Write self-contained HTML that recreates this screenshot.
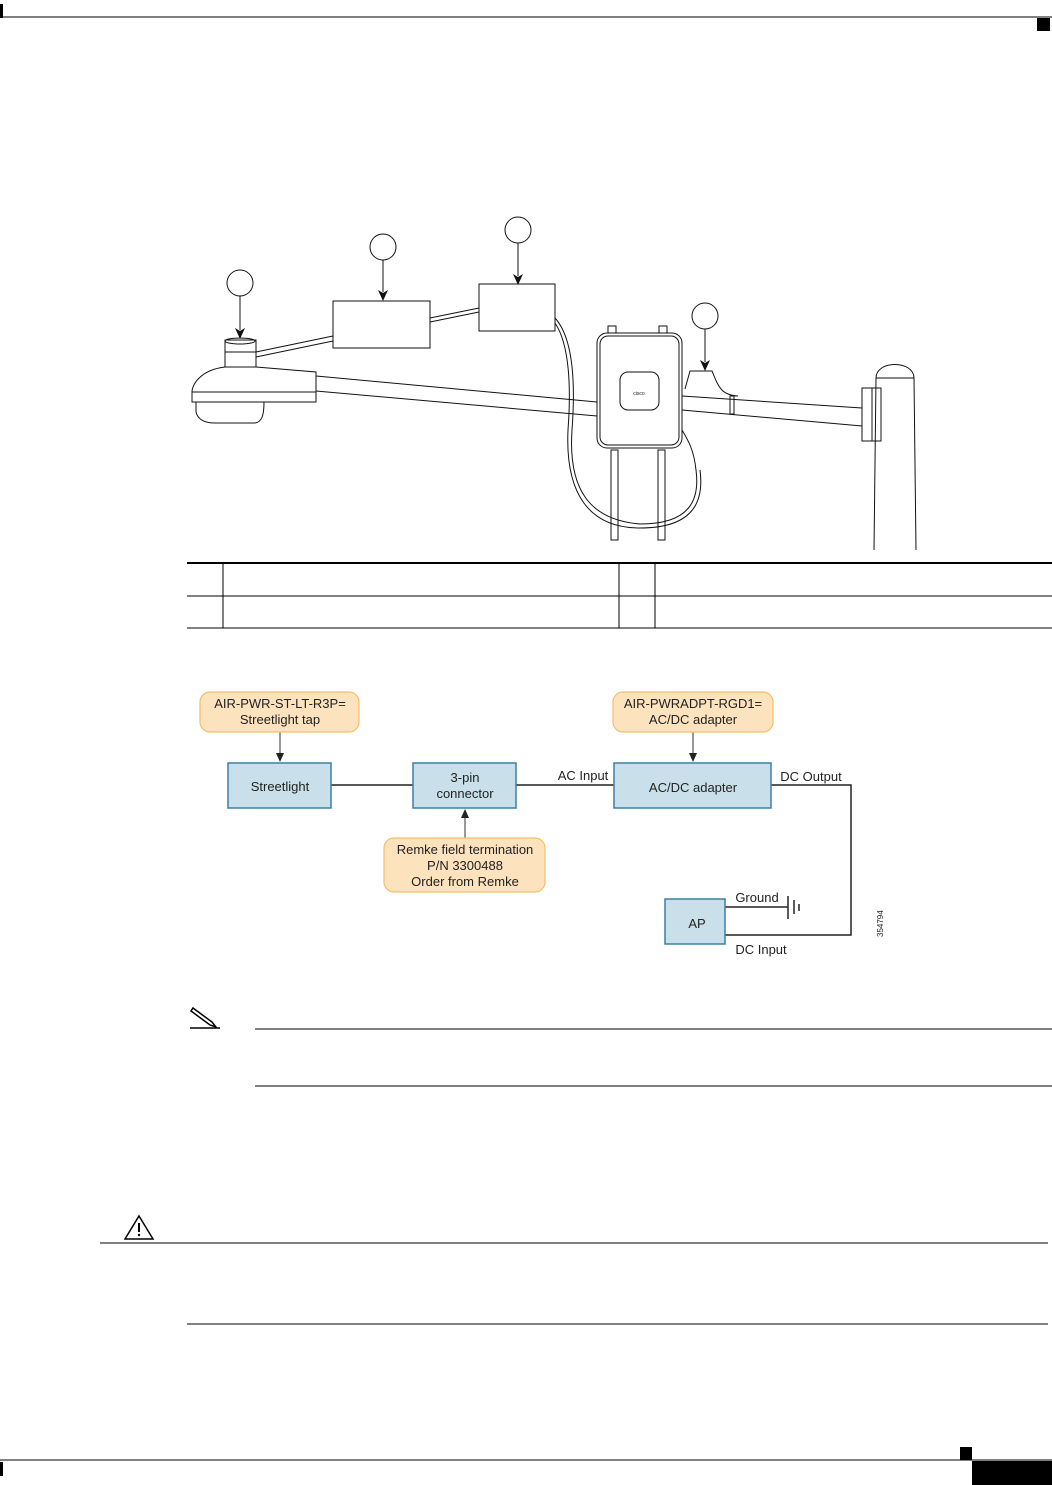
<!DOCTYPE html>
<html><head><meta charset="utf-8"><style>
html,body{margin:0;padding:0;background:#fff}
svg{display:block}
text{font-family:"Liberation Sans",Arial,sans-serif;fill:#222}
</style></head><body>
<svg width="1052" height="1485" viewBox="0 0 1052 1485" xmlns="http://www.w3.org/2000/svg">
<!-- header/footer -->
<line x1="0" y1="17" x2="1052" y2="17" stroke="#000" stroke-width="1"/>
<rect x="0" y="4" width="3" height="14" fill="#000"/>
<rect x="1037" y="18" width="13" height="13" fill="#000"/>
<line x1="0" y1="1460" x2="1052" y2="1460" stroke="#000" stroke-width="1"/>
<rect x="0" y="1462" width="3" height="14" fill="#000"/>
<rect x="960" y="1447" width="12" height="13" fill="#000"/>
<rect x="972" y="1461" width="80" height="24" fill="#000"/>

<!-- illustration -->
<g fill="none" stroke="#111" stroke-width="1">
<circle cx="240" cy="283" r="13"/><line x1="240" y1="296" x2="240" y2="330"/>
<circle cx="383" cy="247" r="13"/><line x1="383" y1="260" x2="383" y2="292"/>
<circle cx="518" cy="230" r="13"/><line x1="518" y1="243" x2="518" y2="276"/>
<circle cx="705" cy="316" r="13"/><line x1="705" y1="329" x2="705" y2="362"/>
<rect x="333" y="301" width="97" height="47"/>
<rect x="479" y="284" width="76" height="47"/>
<!-- cables -->
<path d="M256,352 L333,336 M256,357 L333,341"/>
<path d="M430,318 L479,308 M430,322 L479,312"/>
<path d="M555,318 C575,340 575,390 572,430 C568,490 590,520 640,524 C690,524 700,500 696,470 C694,450 688,440 682,430"/>
<path d="M555,323 C570,345 571,390 568,430 C565,495 590,528 640,528 C695,528 704,500 700,470"/>
<!-- lamp -->
<rect x="225" y="340" width="31" height="27"/>
<ellipse cx="240" cy="341" rx="15" ry="3"/>
<line x1="225" y1="352" x2="256" y2="352"/>
<path d="M225,367 C200,370 192,385 192,392 L192,402 L316,402 L316,372 L256,367"/>
<line x1="192" y1="392" x2="316" y2="392"/>
<path d="M196,402 L196,412 C198,420 205,423 215,423 L255,423 C262,422 264,415 264,402"/>
<!-- arm -->
<path d="M316,376 L597,402 M316,391 L597,416"/>
<path d="M682,396 L862,408 M682,410 L862,426"/>
<rect x="730" y="396" width="4" height="18"/>
<path d="M685,389 L690,371 L712,371 C718,385 720,395 738,396"/>
<!-- AP -->
<rect x="597" y="333" width="85" height="115" rx="10"/>
<rect x="600" y="336" width="79" height="109" rx="8"/>
<rect x="620" y="372" width="39" height="38" rx="8"/>
<rect x="608" y="326" width="8" height="7"/><rect x="659" y="326" width="8" height="7"/>
<rect x="611" y="450" width="7" height="90"/><rect x="658" y="450" width="7" height="90"/>
<!-- pole -->
<path d="M876,378 C876,360 914,360 914,378 Z"/>
<path d="M876,378 L874,550 M914,378 L916,550"/>
<rect x="862" y="388" width="19" height="53"/>
<line x1="872" y1="388" x2="872" y2="441"/>
</g>
<g fill="#111">
<path d="M235,328 L240,339 L245,328 L240,331 Z"/>
<path d="M378,290 L383,301 L388,290 L383,293 Z"/>
<path d="M513,274 L518,285 L523,274 L518,277 Z"/>
<path d="M700,360 L705,371 L710,360 L705,363 Z"/>
</g>
<text x="639" y="395" font-size="5" text-anchor="middle">cisco</text>

<!-- table -->
<g stroke="#000">
<line x1="187" y1="563" x2="1052" y2="563" stroke-width="2"/>
<line x1="187" y1="596" x2="1052" y2="596" stroke-width="1"/>
<line x1="187" y1="628" x2="1052" y2="628" stroke-width="1"/>
<line x1="223" y1="563" x2="223" y2="628"/>
<line x1="619" y1="563" x2="619" y2="628"/>
<line x1="655" y1="563" x2="655" y2="628"/>
</g>

<!-- block diagram -->
<g stroke="#222" stroke-width="1.5" fill="none">
<line x1="331" y1="785" x2="413" y2="785"/>
<line x1="516" y1="785" x2="614" y2="785"/>
<path d="M771,785 L851,785 L851,935 L725,935"/>
<line x1="725" y1="907" x2="788" y2="907"/>
<line x1="788" y1="896" x2="788" y2="919"/>
<line x1="794" y1="900" x2="794" y2="914"/>
<line x1="799" y1="904" x2="799" y2="911"/>
</g>
<g stroke="#333" stroke-width="1">
<line x1="280" y1="732" x2="280" y2="755"/>
<line x1="693" y1="732" x2="693" y2="755"/>
<line x1="465" y1="838" x2="465" y2="816"/>
</g>
<g fill="#222">
<path d="M276,753 L280,762 L284,753 Z"/>
<path d="M689,753 L693,762 L697,753 Z"/>
<path d="M461,818 L465,809 L469,818 Z"/>
</g>
<g fill="#fde3bd" stroke="#f5bf6a" stroke-width="1.2">
<rect x="200" y="692" width="159" height="40" rx="10"/>
<rect x="613" y="692" width="160" height="40" rx="10"/>
<rect x="384" y="838" width="161" height="54" rx="10"/>
</g>
<g fill="#c9e0ea" stroke="#3d7fa3" stroke-width="1.5">
<rect x="228" y="763" width="103" height="45"/>
<rect x="413" y="763" width="103" height="45"/>
<rect x="614" y="763" width="157" height="45"/>
<rect x="665" y="899" width="60" height="45"/>
</g>
<g font-size="13" text-anchor="middle">
<text x="280" y="708">AIR-PWR-ST-LT-R3P=</text>
<text x="280" y="724">Streetlight tap</text>
<text x="693" y="708">AIR-PWRADPT-RGD1=</text>
<text x="693" y="724">AC/DC adapter</text>
<text x="465" y="854">Remke field termination</text>
<text x="465" y="870">P/N 3300488</text>
<text x="465" y="886">Order from Remke</text>
<text x="280" y="791">Streetlight</text>
<text x="465" y="782">3-pin</text>
<text x="465" y="798">connector</text>
<text x="693" y="792">AC/DC adapter</text>
<text x="697" y="928">AP</text>
<text x="583" y="780">AC Input</text>
<text x="811" y="781">DC Output</text>
<text x="757" y="902">Ground</text>
<text x="761" y="954">DC Input</text>
</g>
<text x="0" y="0" font-size="8" transform="translate(883,937) rotate(-90)">354794</text>

<!-- note -->
<g stroke="#000" fill="none">
<path d="M193,1008 L212,1022 L216,1027 L210,1025 L191,1011 Z" stroke-width="1.5"/>
<line x1="190" y1="1028" x2="220" y2="1028" stroke-width="1.5"/>
<line x1="255" y1="1029" x2="1052" y2="1029"/>
<line x1="255" y1="1086" x2="1052" y2="1086"/>
<path d="M139,1216 L153,1239 L125,1239 Z" stroke-width="1.5"/>
<line x1="139" y1="1223" x2="139" y2="1232" stroke-width="2"/>
<line x1="100" y1="1243" x2="1048" y2="1243"/>
<line x1="187" y1="1324" x2="1048" y2="1324"/>
</g>
<circle cx="139" cy="1235" r="1.2" fill="#000"/>
</svg>
</body></html>
